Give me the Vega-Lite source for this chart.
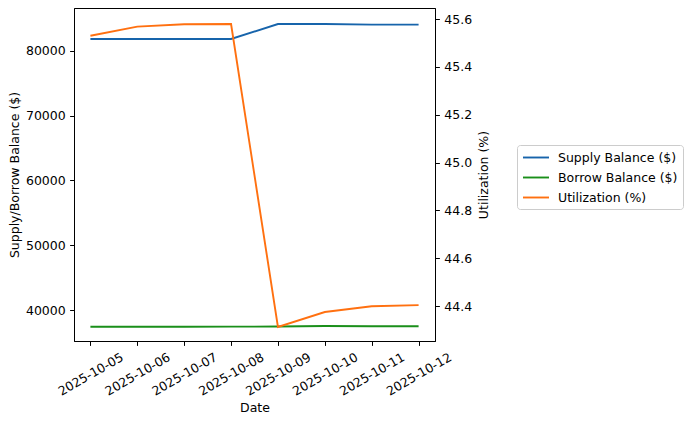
{
  "$schema": "https://vega.github.io/schema/vega-lite/v6.json",
  "width": 361,
  "height": 333,
  "autosize": "none",
  "padding": {"left": 74, "top": 8, "right": 255, "bottom": 82},
  "background": "white",
  "data": {
    "values": [
      {"date": "2025-10-05", "series": "Supply Balance ($)", "value": 81850},
      {"date": "2025-10-06", "series": "Supply Balance ($)", "value": 81850},
      {"date": "2025-10-07", "series": "Supply Balance ($)", "value": 81850},
      {"date": "2025-10-08", "series": "Supply Balance ($)", "value": 81860},
      {"date": "2025-10-09", "series": "Supply Balance ($)", "value": 84170},
      {"date": "2025-10-10", "series": "Supply Balance ($)", "value": 84180},
      {"date": "2025-10-11", "series": "Supply Balance ($)", "value": 84080},
      {"date": "2025-10-12", "series": "Supply Balance ($)", "value": 84070},
      {"date": "2025-10-05", "series": "Borrow Balance ($)", "value": 37420},
      {"date": "2025-10-06", "series": "Borrow Balance ($)", "value": 37420},
      {"date": "2025-10-07", "series": "Borrow Balance ($)", "value": 37420},
      {"date": "2025-10-08", "series": "Borrow Balance ($)", "value": 37430},
      {"date": "2025-10-09", "series": "Borrow Balance ($)", "value": 37450},
      {"date": "2025-10-10", "series": "Borrow Balance ($)", "value": 37520},
      {"date": "2025-10-11", "series": "Borrow Balance ($)", "value": 37500},
      {"date": "2025-10-12", "series": "Borrow Balance ($)", "value": 37500},
      {"date": "2025-10-05", "series": "Utilization (%)", "value": 45.530},
      {"date": "2025-10-06", "series": "Utilization (%)", "value": 45.568},
      {"date": "2025-10-07", "series": "Utilization (%)", "value": 45.578},
      {"date": "2025-10-08", "series": "Utilization (%)", "value": 45.579},
      {"date": "2025-10-09", "series": "Utilization (%)", "value": 44.313},
      {"date": "2025-10-10", "series": "Utilization (%)", "value": 44.375},
      {"date": "2025-10-11", "series": "Utilization (%)", "value": 44.399},
      {"date": "2025-10-12", "series": "Utilization (%)", "value": 44.404}
    ]
  },
  "encoding": {
    "x": {
      "field": "date",
      "type": "ordinal",
      "scale": {"type": "point", "padding": 0.35},
      "axis": {
        "title": "Date",
        "labelAngle": -30,
        "labelAlign": "center",
        "labelBaseline": "middle",
        "labelPadding": 28.5,
        "titlePadding": 4
      }
    },
    "color": {
      "field": "series",
      "type": "nominal",
      "scale": {
        "domain": ["Supply Balance ($)", "Borrow Balance ($)", "Utilization (%)"],
        "range": ["#1764ab", "#1a8f1a", "#ff7010"]
      },
      "legend": {
        "title": null,
        "orient": "none",
        "legendX": 443,
        "legendY": 137,
        "symbolType": "M-1,0H3",
        "symbolSize": 169,
        "symbolStrokeWidth": 1.9,
        "labelFontSize": 12.5,
        "labelOffset": 21,
        "rowPadding": 6,
        "padding": 5,
        "strokeColor": "#cccccc",
        "fillColor": "white",
        "cornerRadius": 3
      }
    }
  },
  "layer": [
    {
      "transform": [{"filter": "datum.series != 'Utilization (%)'"}],
      "mark": {"type": "line", "strokeWidth": 1.9},
      "encoding": {
        "y": {
          "field": "value",
          "type": "quantitative",
          "scale": {"domain": [35213, 86640], "nice": false, "zero": false},
          "axis": {
            "title": "Supply/Borrow Balance ($)",
            "values": [40000, 50000, 60000, 70000, 80000],
            "format": "d",
            "titlePadding": 4
          }
        }
      }
    },
    {
      "transform": [{"filter": "datum.series == 'Utilization (%)'"}],
      "mark": {"type": "line", "strokeWidth": 1.9},
      "encoding": {
        "y": {
          "field": "value",
          "type": "quantitative",
          "scale": {"domain": [44.254, 45.646], "nice": false, "zero": false},
          "axis": {
            "title": "Utilization (%)",
            "orient": "right",
            "titleAngle": 270,
            "values": [44.4, 44.6, 44.8, 45.0, 45.2, 45.4, 45.6],
            "format": ".1f",
            "titlePadding": 19
          }
        }
      }
    }
  ],
  "resolve": {"scale": {"y": "independent"}},
  "config": {
    "font": "DejaVu Sans",
    "view": {"stroke": "black", "strokeWidth": 1},
    "axis": {
      "grid": false,
      "domainColor": "black",
      "domainWidth": 1,
      "tickColor": "black",
      "tickWidth": 1,
      "tickSize": 4.4,
      "labelPadding": 4.4,
      "labelColor": "black",
      "labelFontSize": 12.5,
      "titleColor": "black",
      "titleFontSize": 12.5,
      "titleFontWeight": "normal"
    },
    "legend": {"labelColor": "black"}
  }
}
